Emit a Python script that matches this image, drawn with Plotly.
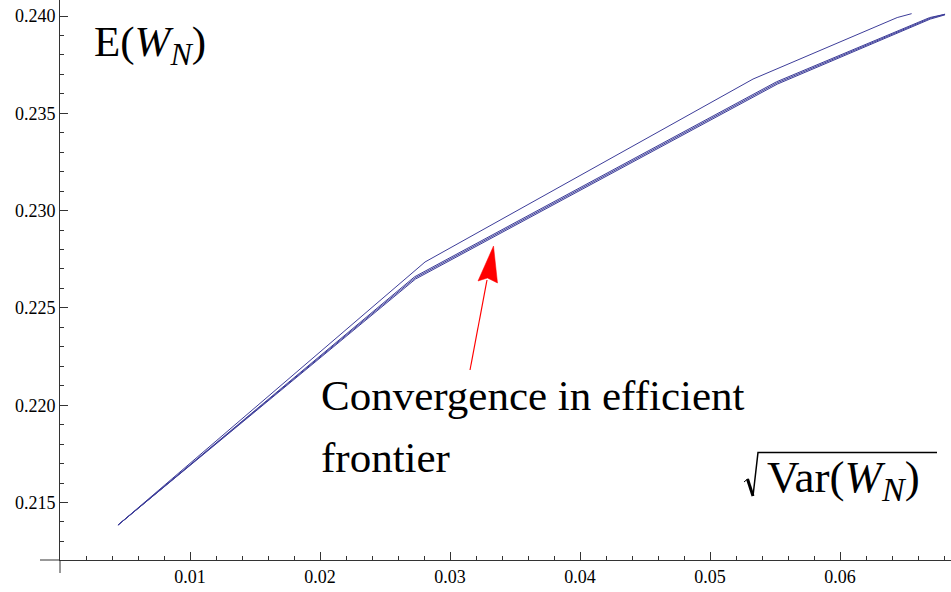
import plotly.graph_objects as go

# ---- data ----
upper_x = [0.00446, 0.02808, 0.05331, 0.06440, 0.06551]
upper_y = [0.21384, 0.22736, 0.23676, 0.23992, 0.24012]

lower1_x = [0.00446, 0.02728, 0.05512, 0.06690, 0.06808]
lower1_y = [0.21384, 0.22660, 0.23662, 0.23992, 0.24009]
lower2_x = [0.00446, 0.02731, 0.05515, 0.06692, 0.06808]
lower2_y = [0.21384, 0.22654, 0.23656, 0.23988, 0.24009]
lower3_x = [0.00446, 0.02734, 0.05518, 0.06694, 0.06808]
lower3_y = [0.21384, 0.22648, 0.23650, 0.23984, 0.24006]

x_tickvals = [0.01, 0.02, 0.03, 0.04, 0.05, 0.06]
x_ticktext = ["0.01", "0.02", "0.03", "0.04", "0.05", "0.06"]
y_tickvals = [0.215, 0.220, 0.225, 0.230, 0.235, 0.240]
y_ticktext = ["0.215", "0.220", "0.225", "0.230", "0.235", "0.240"]
x_minor = [round(0.002 * i, 3) for i in range(1, 35)]
y_minor = [round(0.213 + 0.001 * i, 3) for i in range(0, 28)]

LINE = "rgb(61,61,153)"
FONT = "Liberation Serif"

W, H = 951, 592
L, R, T, B = 60, 0, 0, 32
PW, PH = W - L - R, H - T - B


def px(xp):
    return (xp - L) / PW


def py(yp):
    return (H - B - yp) / PH


fig = go.Figure()
for xs, ys in [(upper_x, upper_y), (lower1_x, lower1_y), (lower2_x, lower2_y), (lower3_x, lower3_y)]:
    fig.add_trace(go.Scatter(x=xs, y=ys, mode="lines",
                             line=dict(color=LINE, width=1), showlegend=False,
                             hoverinfo="skip"))

shapes = []
# axis extensions (Mathematica-style crossing axes)
shapes.append(dict(type="line", xref="paper", yref="paper", x0=px(40), x1=px(60), y0=py(560), y1=py(560),
                   line=dict(color="#333", width=1)))
shapes.append(dict(type="line", xref="paper", yref="paper", x0=px(60), x1=px(60), y0=py(560), y1=py(573),
                   line=dict(color="#333", width=1)))
# red arrow
shapes.append(dict(type="line", xref="paper", yref="paper", x0=px(470), y0=py(370), x1=px(487), y1=py(280),
                   line=dict(color="red", width=1.2)))
shapes.append(dict(type="path", xref="paper", yref="paper",
                   path=f"M {px(493.5)},{py(246)} L {px(497.5)},{py(283)} L {px(487.5)},{py(278)} L {px(478)},{py(281)} Z",
                   fillcolor="red", line=dict(color="red", width=0.5)))
# radical sign
shapes.append(dict(type="path", xref="paper", yref="paper",
                   path=f"M {px(744)},{py(482)} L {px(747.5)},{py(479)}",
                   line=dict(color="black", width=1)))
shapes.append(dict(type="path", xref="paper", yref="paper",
                   path=f"M {px(747.5)},{py(479)} L {px(753)},{py(496)}",
                   line=dict(color="black", width=3)))
shapes.append(dict(type="path", xref="paper", yref="paper",
                   path=f"M {px(753)},{py(496)} L {px(758)},{py(452.5)} L {px(937)},{py(452.5)}",
                   line=dict(color="black", width=1.5)))

SUB = "<sub><i><span style='font-size:32px'>N</span></i></sub>"
SUB2 = "<sub><i><span style='font-size:34px'>N</span></i></sub>"
annotations = [
    dict(text="E(<i>W</i>" + SUB + ")", xref="paper", yref="paper", x=px(92), y=py(45),
         xanchor="left", yanchor="middle", showarrow=False, font=dict(family=FONT, size=43, color="black")),
    dict(text="Var(<i>W</i>" + SUB2 + ")", xref="paper", yref="paper", x=px(765), y=py(480),
         xanchor="left", yanchor="middle", showarrow=False, font=dict(family=FONT, size=45, color="black")),
    dict(text="Convergence in efficient", xref="paper", yref="paper", x=px(319), y=py(396),
         xanchor="left", yanchor="middle", showarrow=False, font=dict(family=FONT, size=43, color="black")),
    dict(text="frontier", xref="paper", yref="paper", x=px(319), y=py(457),
         xanchor="left", yanchor="middle", showarrow=False, font=dict(family=FONT, size=43, color="black")),
]

fig.update_layout(
    width=W, height=H,
    margin=dict(l=L, r=R, t=T, b=B, pad=0),
    paper_bgcolor="white", plot_bgcolor="white",
    shapes=shapes, annotations=annotations,
    xaxis=dict(range=[0, PW / 13000], showgrid=False, zeroline=False,
               showline=True, linecolor="#333", linewidth=1,
               ticks="inside", ticklen=8, tickwidth=1, tickcolor="#333",
               tickmode="array", tickvals=x_tickvals, ticktext=x_ticktext,
               tickfont=dict(family=FONT, size=18, color="black"),
               minor=dict(tickmode="array", tickvals=x_minor, ticks="inside", ticklen=4,
                          tickcolor="#333", tickwidth=1, showgrid=False)),
    yaxis=dict(range=[0.240 - (H - B - 16) / 97.3 * 0.005, 0.240 + 16 / 97.3 * 0.005],
               showgrid=False, zeroline=False,
               showline=True, linecolor="#333", linewidth=1,
               ticks="inside", ticklen=8, tickwidth=1, tickcolor="#333",
               tickmode="array", tickvals=y_tickvals, ticktext=y_ticktext,
               tickfont=dict(family=FONT, size=18, color="black"),
               minor=dict(tickmode="array", tickvals=y_minor, ticks="inside", ticklen=4,
                          tickcolor="#333", tickwidth=1, showgrid=False)),
)

fig.write_html("out.html")
